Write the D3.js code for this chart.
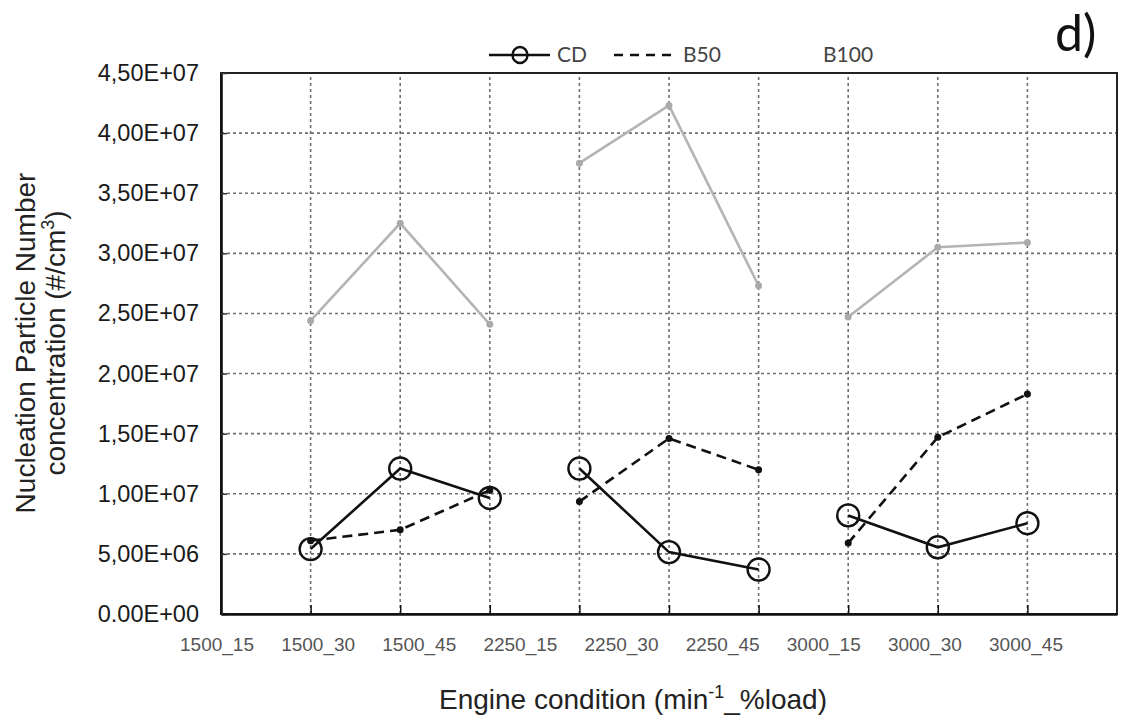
<html>
<head>
<style>
  body { margin: 0; background: #fff; }
  #chart svg { display: block; }
</style>
</head>
<body>
<div id="chart"></div>
<script src="https://cdn.jsdelivr.net/npm/d3@7"></script>
<script>
  // engine conditions, printed evenly under the axis
  const tickLabels = ["1500_15", "1500_30", "1500_45", "2250_15", "2250_30",
                      "2250_45", "3000_15", "3000_30", "3000_45"];
  // x position of each measured point (1..9 on a 0..10 axis) and its speed group
  const xPos = [1, 2, 3, 4, 5, 6, 7, 8, 9];
  const group = [0, 0, 0, 1, 1, 1, 2, 2, 2];

  const cd   = [5.4e6, 1.21e7, 9.65e6, 1.21e7, 5.15e6, 3.7e6, 8.2e6, 5.55e6, 7.55e6];
  const b50  = [6.1e6, 7.0e6, 1.03e7, 9.35e6, 1.46e7, 1.2e7, 5.9e6, 1.47e7, 1.83e7];
  const b100 = [2.44e7, 3.25e7, 2.41e7, 3.75e7, 4.23e7, 2.73e7, 2.47e7, 3.05e7, 3.09e7];

  const yTicks = d3.range(0, 4.5e7 + 1, 5e6);

  const width = 1121, height = 725;
  const margin = { top: 73, right: 4, bottom: 111, left: 221 };

  const svg = d3.select('#chart').append('svg')
    .attr('width', width)
    .attr('height', height)
    .style('background', '#fff');

  const x = d3.scaleLinear().domain([0, 10]).range([margin.left, width - margin.right]);
  const y = d3.scaleLinear().domain([0, 4.5e7]).range([height - margin.bottom, margin.top]);
  // the category labels do not sit under the gridlines in the original
  const xLab = d3.scalePoint().domain(tickLabels).range([217, 1026]);

  const fmt = v => {
    if (v === 0) return '0.00E+00';
    const [m, e] = v.toExponential(2).split('e');
    const n = +e;
    return m.replace('.', ',') + 'E' + (n < 0 ? '-' : '+') + String(Math.abs(n)).padStart(2, '0');
  };

  // gridlines
  const grid = svg.append('g')
    .attr('stroke', '#707070')
    .attr('stroke-width', 1.6)
    .attr('stroke-dasharray', '3,3');
  grid.selectAll('.vg')
    .data(xPos)
    .enter().append('line')
    .attr('x1', d => x(d)).attr('x2', d => x(d))
    .attr('y1', y(0)).attr('y2', y(4.5e7));
  grid.selectAll('.hg')
    .data(yTicks.filter(d => d > 0 && d < 4.5e7))
    .enter().append('line')
    .attr('x1', x(0)).attr('x2', x(10))
    .attr('y1', d => y(d)).attr('y2', d => y(d));

  // frame
  svg.append('rect')
    .attr('x', x(0)).attr('y', y(4.5e7))
    .attr('width', x(10) - x(0)).attr('height', y(0) - y(4.5e7))
    .attr('fill', 'none').attr('stroke', '#222').attr('stroke-width', 2);

  // y axis
  const yAxis = svg.append('g')
    .attr('transform', `translate(${x(0)},0)`)
    .call(d3.axisLeft(y).tickValues(yTicks).tickFormat(fmt).tickSizeInner(-6).tickSizeOuter(0).tickPadding(22));
  yAxis.select('.domain').attr('stroke', '#111').attr('stroke-width', 2.6);
  yAxis.selectAll('.tick line').attr('stroke', '#333').attr('stroke-width', 1.5);
  yAxis.selectAll('text')
    .style('font-family', 'Liberation Sans, Arial, sans-serif')
    .style('font-size', '23.5px')
    .attr('fill', '#1a1a1a');

  // x axis: ticks at the gridlines, labels from their own point scale
  const xAxis = svg.append('g')
    .attr('transform', `translate(0,${y(0)})`)
    .call(d3.axisBottom(x).tickValues(xPos).tickFormat('').tickSizeInner(-9).tickSizeOuter(0));
  xAxis.select('.domain').attr('stroke', '#111').attr('stroke-width', 2.6);
  xAxis.selectAll('.tick line').attr('stroke', '#111').attr('stroke-width', 1.5);

  svg.append('g').selectAll('text')
    .data(tickLabels)
    .enter().append('text')
    .attr('x', d => xLab(d))
    .attr('y', 651)
    .attr('text-anchor', 'middle')
    .style('font-family', 'Liberation Sans, Arial, sans-serif')
    .style('font-size', '19px')
    .attr('fill', '#555')
    .text(d => d);

  // series
  const rows = xPos.map((p, i) => ({ p, g: group[i], cd: cd[i], b50: b50[i], b100: b100[i] }));
  const byGroup = d3.groups(rows, d => d.g).map(d => d[1]);
  const line = key => d3.line().x(d => x(d.p)).y(d => y(d[key]));

  const series = [
    { key: 'b100', color: '#b4b4b4', dash: null },
    { key: 'b50', color: '#111', dash: '10,6' },
    { key: 'cd', color: '#111', dash: null }
  ];

  series.forEach(s => {
    svg.append('g').selectAll('path')
      .data(byGroup)
      .enter().append('path')
      .attr('d', line(s.key))
      .attr('fill', 'none')
      .attr('stroke', s.color)
      .attr('stroke-width', 2.6)
      .attr('stroke-dasharray', s.dash);
  });

  svg.append('g').selectAll('circle')
    .data(rows)
    .enter().append('circle')
    .attr('cx', d => x(d.p)).attr('cy', d => y(d.b100))
    .attr('r', 3.5).attr('fill', '#aaa');
  svg.append('g').selectAll('circle')
    .data(rows)
    .enter().append('circle')
    .attr('cx', d => x(d.p)).attr('cy', d => y(d.b50))
    .attr('r', 3.5).attr('fill', '#111');
  svg.append('g').selectAll('circle')
    .data(rows)
    .enter().append('circle')
    .attr('cx', d => x(d.p)).attr('cy', d => y(d.cd))
    .attr('r', 11).attr('fill', 'none')
    .attr('stroke', '#111').attr('stroke-width', 2.4);

  // legend
  const legend = svg.append('g')
    .style('font-family', 'Lato, "Open Sans", sans-serif')
    .style('font-size', '21px')
    .attr('fill', '#444');
  legend.append('line').attr('x1', 489).attr('x2', 550).attr('y1', 55).attr('y2', 55)
    .attr('stroke', '#111').attr('stroke-width', 2.6);
  legend.append('ellipse').attr('cx', 520).attr('cy', 55).attr('rx', 7.5).attr('ry', 8)
    .attr('fill', 'none').attr('stroke', '#111').attr('stroke-width', 2.4);
  legend.append('text').attr('x', 557).attr('y', 62).text('CD');
  legend.append('line').attr('x1', 614).attr('x2', 673).attr('y1', 55).attr('y2', 55)
    .attr('stroke', '#111').attr('stroke-width', 2.6).attr('stroke-dasharray', '9,7');
  legend.append('text').attr('x', 683).attr('y', 62).text('B50');
  legend.append('text').attr('x', 823).attr('y', 62).text('B100');

  svg.append('text')
    .attr('x', 1055).attr('y', 51)
    .style('font-family', 'Lato, "Open Sans", sans-serif')
    .style('font-size', '50px')
    .attr('fill', '#111')
    .text('d)');

  // axis titles
  const yTitle = svg.append('text')
    .attr('transform', 'translate(0,343) rotate(-90)')
    .attr('text-anchor', 'middle')
    .style('font-family', 'Liberation Sans, Arial, sans-serif')
    .style('font-size', '28px')
    .attr('fill', '#222');
  yTitle.append('tspan').attr('x', 0).attr('y', 35).text('Nucleation Particle Number');
  const l2 = yTitle.append('tspan').attr('x', 0).attr('y', 65).text('concentration (#/cm');
  l2.append('tspan').attr('dy', -11).style('font-size', '18px').text('3');
  l2.append('tspan').attr('dy', 11).text(')');

  const xTitle = svg.append('text')
    .attr('x', 633).attr('y', 709)
    .attr('text-anchor', 'middle')
    .style('font-family', 'Liberation Sans, Arial, sans-serif')
    .style('font-size', '28px')
    .attr('fill', '#222');
  xTitle.append('tspan').text('Engine condition (min');
  xTitle.append('tspan').attr('dy', -11).style('font-size', '18px').text('-1');
  xTitle.append('tspan').attr('dy', 11).text('_%load)');
</script>
</body>
</html>
